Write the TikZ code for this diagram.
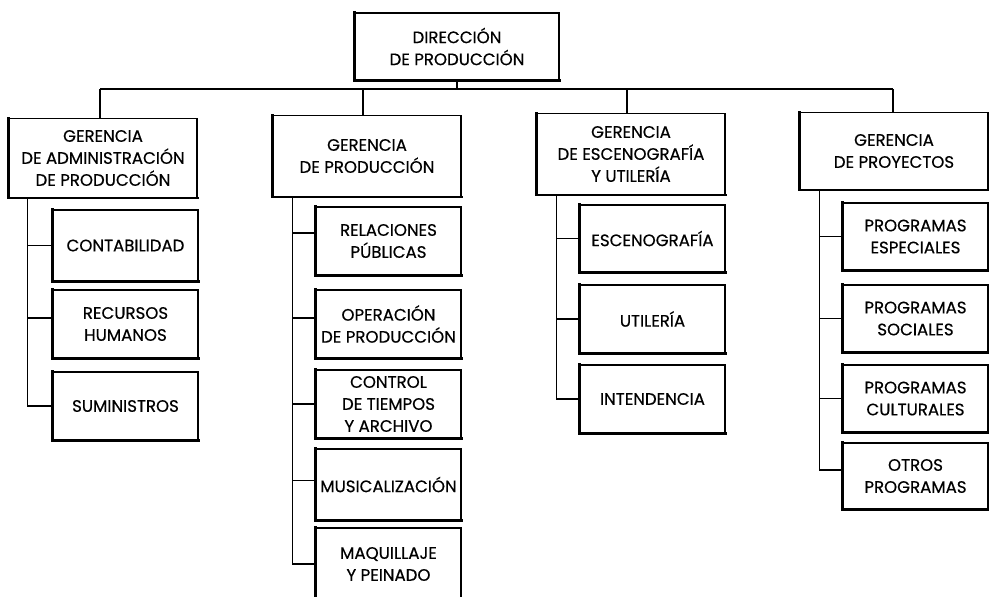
\documentclass[tikz,border=0pt]{standalone}
\usepackage{fontspec}
\setmainfont{Poppins}
\newfontfamily\lblfont{Poppins}[FakeBold=0.5]
\begin{document}
\begin{tikzpicture}[x=1pt,y=-1pt,
  unit/.style={draw, line width=1.2pt, inner sep=0pt, align=center,
    font=\lblfont\fontsize{16.6}{22}\selectfont},
  head/.style={unit, minimum width=188pt},
  sub/.style={unit, minimum width=145pt},
  heavy/.style={line width=2.6pt, line cap=rect},
  link/.style={line width=1.1pt}]
\clip (0,0) rectangle (989,597);
\fill[white] (0,0) rectangle (989,597);

% top level
\node[unit, minimum width=204pt, minimum height=67pt] (dir) at (457,46.5) {DIRECCIÓN\\DE PRODUCCIÓN};

% managements
\node[head, minimum height=79pt] (g1) at (103,158) {GERENCIA\\DE ADMINISTRACIÓN\\DE PRODUCCIÓN};
\node[head, minimum height=81pt] (g2) at (367,156) {GERENCIA\\DE PRODUCCIÓN};
\node[head, minimum height=81pt] (g3) at (631,154) {GERENCIA\\DE ESCENOGRAFÍA\\Y UTILERÍA};
\node[head, minimum height=77pt] (g4) at (894,151) {GERENCIA\\DE PROYECTOS};

% units under administration
\node[sub, minimum height=71pt] (a1) at (125.5,245.5) {CONTABILIDAD};
\node[sub, minimum height=68pt] (a2) at (125.5,324) {RECURSOS\\HUMANOS};
\node[sub, minimum height=68pt] (a3) at (125.5,406) {SUMINISTROS};

% units under production
\node[sub, minimum height=68pt] (p1) at (388.5,241) {RELACIONES\\PÚBLICAS};
\node[sub, minimum height=68pt] (p2) at (388.5,324) {OPERACIÓN\\DE PRODUCCIÓN};
\node[sub, minimum height=68pt] (p3) at (388.5,404) {CONTROL\\DE TIEMPOS\\Y ARCHIVO};
\node[sub, minimum height=71pt] (p4) at (388.5,484.5) {MUSICALIZACIÓN};
\node[sub, minimum height=72pt] (p5) at (388.5,564) {MAQUILLAJE\\Y PEINADO};

% units under scenography
\node[sub, minimum height=67pt] (e1) at (652.5,238.5) {ESCENOGRAFÍA};
\node[sub, minimum height=68pt] (e2) at (652.5,319) {UTILERÍA};
\node[sub, minimum height=68pt] (e3) at (652.5,399) {INTENDENCIA};

% units under projects
\node[sub, minimum height=67pt] (r1) at (915.5,236.5) {PROGRAMAS\\ESPECIALES};
\node[sub, minimum height=67pt] (r2) at (915.5,318.5) {PROGRAMAS\\SOCIALES};
\node[sub, minimum height=67pt] (r3) at (915.5,398.5) {PROGRAMAS\\CULTURALES};
\node[sub, minimum height=66pt] (r4) at (915.5,476) {OTROS\\PROGRAMAS};

% heavier left and bottom edges
\foreach \n in {dir,g1,g2,g3,g4,a1,a2,a3,p1,p2,p3,p4,p5,e1,e2,e3,r1,r2,r3,r4}
  \draw[heavy] (\n.north west) -- (\n.south west) -- (\n.south east);

% main bus
\coordinate (b1) at (100,89);
\coordinate (b2) at (363,89);
\coordinate (b3) at (627,89);
\coordinate (b4) at (893,89);
\draw[link] (dir.south) -- (dir.south |- b1);
\draw[link] (b1) -- (b4);
\draw[link] (b1) -- (b1 |- g1.north);
\draw[link] (b2) -- (b2 |- g2.north);
\draw[link] (b3) -- (b3 |- g3.north);
\draw[link] (b4) -- (b4 |- g4.north);

% branch trunks
\coordinate (t1) at ([xshift=19pt]g1.south west);
\coordinate (t2) at ([xshift=20pt]g2.south west);
\coordinate (t3) at ([xshift=20pt]g3.south west);
\coordinate (t4) at ([xshift=20pt]g4.south west);

\draw[link] (t1) |- (a1.west);
\draw[link] (t1) |- ([yshift=6pt]a2.west);
\draw[link] (t1) |- (a3.west);
\draw[link] (t2) |- ([yshift=8pt]p1.west);
\draw[link] (t2) |- ([yshift=6pt]p2.west);
\draw[link] (t2) |- (p3.west);
\draw[link] (t2) |- ([yshift=4pt]p4.west);
\draw[link] (t2) |- (p5.west);
\foreach \c in {e1,e2,e3} \draw[link] (t3) |- (\c.west);
\foreach \c in {r1,r2,r3} \draw[link] (t4) |- (\c.west);
\draw[link] (t4) |- ([yshift=6pt]r4.west);
\end{tikzpicture}
\end{document}
